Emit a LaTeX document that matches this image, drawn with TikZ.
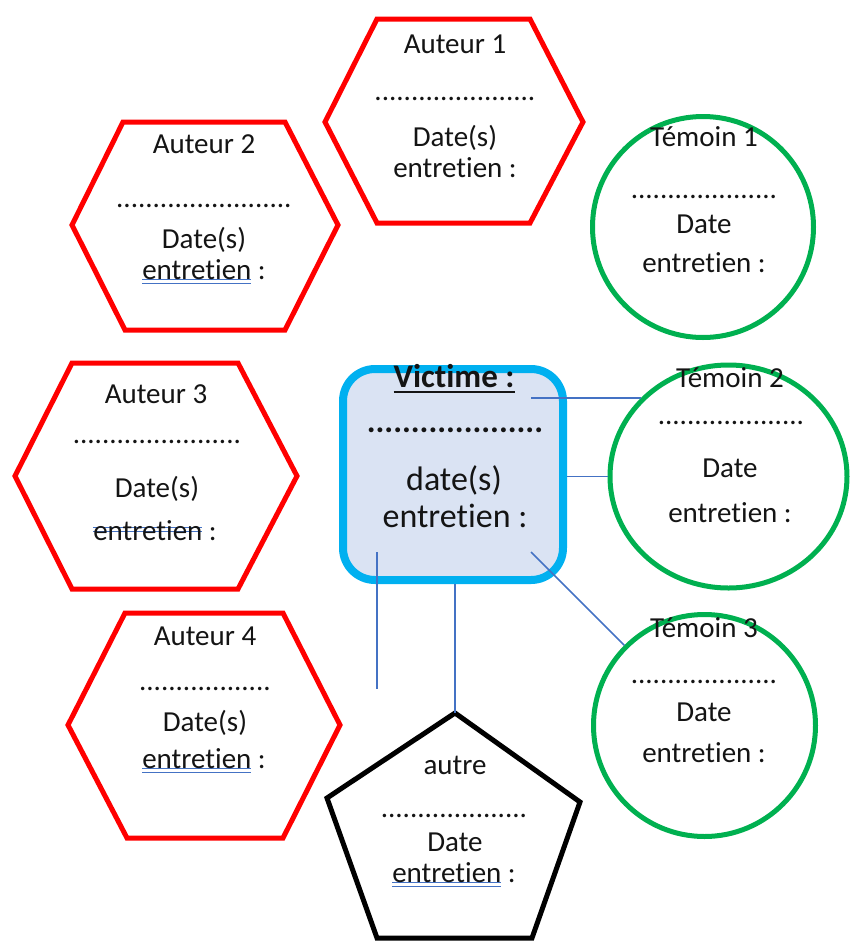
\documentclass[tikz,border=0pt]{standalone}
\usepackage{fontspec}
\setmainfont{Carlito}[Ligatures=NoCommon]
\usepackage{xcolor}
\usepackage{tikz}
\usetikzlibrary{shapes.geometric}
\definecolor{rougeAuteur}{HTML}{FF0000}
\definecolor{vertTemoin}{HTML}{00B050}
\definecolor{cyanVictime}{HTML}{00B0F0}
\definecolor{fondVictime}{HTML}{DAE3F3}
\definecolor{bleuLien}{HTML}{4472C4}
\definecolor{encre}{HTML}{141414}

% double trait bleu sous un mot (correcteur)
\newcommand{\motsouligne}[1]{\setbox0\hbox{#1}%
  \rlap{\textcolor{bleuLien}{\rule[-0.8pt]{\wd0}{1.2pt}}}%
  \rlap{\textcolor{bleuLien}{\rule[-5pt]{\wd0}{1.2pt}}}\box0\relax}
% double trait bleu a travers un mot
\newcommand{\motbarre}[1]{\setbox0\hbox{#1}%
  \rlap{\textcolor{bleuLien}{\rule[12pt]{\wd0}{1.2pt}}}%
  \rlap{\textcolor{bleuLien}{\rule[8pt]{\wd0}{1.2pt}}}\box0\relax}
% trait noir sous le titre
\newcommand{\titresouligne}[1]{\setbox0\hbox{#1}%
  \rlap{\rule[-6pt]{\wd0}{1.8pt}}\box0\relax}

\begin{document}
\begin{tikzpicture}[x=1pt, y=-1pt,
  auteur/.style={draw=rougeAuteur, line width=5pt},
  temoin/.style={draw=vertTemoin, line width=5pt, inner sep=0pt},
  victime/.style={draw=cyanVictime, fill=fondVictime, line width=8pt,
    rounded corners=32pt, inner sep=0pt, minimum width=220pt, minimum height=211pt},
  autre/.style={draw=black, line width=5pt},
  lien/.style={bleuLien, line width=1.5pt},
  txt/.style={anchor=base, inner sep=0pt, text=encre, font=\fontsize{29}{34}\selectfont},
  grand/.style={txt, font=\fontsize{34}{40}\selectfont}]
  \useasboundingbox (0,0) rectangle (850,943);

  % auteurs
  \draw[auteur] (377,19) -- (530,19) -- (583,122) -- (530,223) -- (377,223) -- (325,122) -- cycle;
  \draw[auteur] (123,122) -- (285,122) -- (338,225) -- (285,330) -- (125,330) -- (72,225) -- cycle;
  \draw[auteur] (72,363) -- (238,363) -- (297,476) -- (238,589) -- (72,589) -- (15,476) -- cycle;
  \draw[auteur] (125,613) -- (283,613) -- (340,725) -- (283,838) -- (127,838) -- (68,725) -- cycle;

  % temoins
  \node[temoin, circle, minimum size=221pt] (temoinA) at (703,227) {};
  \node[temoin, ellipse, minimum width=237pt, minimum height=223pt] (temoinB) at (728.5,476.5) {};
  \node[temoin, circle, minimum size=222pt] (temoinC) at (704.5,725.5) {};

  % autre
  \coordinate (autreHaut) at (455,713);
  \draw[autre] (autreHaut) -- (580,802) -- (532,938) -- (377,938) -- (327,798) -- cycle;

  % victime
  \node[victime] (victime) at (453,474.5) {};
  \coordinate (vicHaut) at (531,398);
  \coordinate (vicBas) at (531,552);
  \coordinate (vicGauche) at (377,552);
  \coordinate (finLibre) at (377,689);

  % liens
  \draw[lien] (vicHaut) -- (vicHaut -| temoinB.138.4);
  \draw[lien] (temoinB.west -| victime.east) -- (temoinB.west);
  \draw[lien] (vicBas) -- (temoinC.135);
  \draw[lien] (victime.south -| autreHaut) -- (autreHaut);
  \draw[lien] (vicGauche) -- (finLibre);

  % textes auteurs
  \node[txt] (a1nom) at (455,53) {Auteur 1};
  \node[txt] (a1pts) at (455,100) {......................};
  \node[txt] (a1date) at (455,146) {Date(s)};
  \node[txt] (a1ent) at (455,177) {entretien :};

  \node[txt] (a2nom) at (204,153) {Auteur 2};
  \node[txt] (a2pts) at (204,207) {........................};
  \node[txt] (a2date) at (204,248) {Date(s)};
  \node[txt] (a2ent) at (204,279) {\motsouligne{entretien} :};

  \node[txt] (a3nom) at (156,403) {Auteur 3};
  \node[txt] (a3pts) at (157,443) {.......................};
  \node[txt] (a3date) at (157,497) {Date(s)};
  \node[txt] (a3ent) at (155,540) {\motbarre{entretien} :};

  \node[txt] (a4nom) at (205,645) {Auteur 4};
  \node[txt] (a4pts) at (205,690) {..................};
  \node[txt] (a4date) at (205,731) {Date(s)};
  \node[txt] (a4ent) at (204,768) {\motsouligne{entretien} :};

  % textes temoins
  \node[txt] (t1nom) at (704,146) {Témoin 1};
  \node[txt] (t1pts) at (704,198) {....................};
  \node[txt] (t1date) at (704,233) {Date};
  \node[txt] (t1ent) at (704,272) {entretien :};

  \node[txt] (t2nom) at (730,387) {Témoin 2};
  \node[txt] (t2pts) at (731,424) {....................};
  \node[txt] (t2date) at (730,477) {Date};
  \node[txt] (t2ent) at (730,522) {entretien :};

  \node[txt] (t3nom) at (704,637) {Témoin 3};
  \node[txt] (t3pts) at (704,683) {....................};
  \node[txt] (t3date) at (704,721) {Date};
  \node[txt] (t3ent) at (704,762) {entretien :};

  % texte autre
  \node[txt] (auNom) at (455,774) {autre};
  \node[txt] (auPts) at (454,817) {....................};
  \node[txt] (auDate) at (455,851) {Date};
  \node[txt] (auEnt) at (454,882) {\motsouligne{entretien} :};

  % texte victime
  \node[grand, font=\fontsize{33}{40}\selectfont\bfseries] (vNom) at (454,387) {\titresouligne{Victime :}};
  \node[grand, font=\fontsize{33}{40}\selectfont\bfseries] (vPts) at (455,432) {....................};
  \node[grand] (vDate) at (454,490) {date(s)};
  \node[grand] (vEnt) at (455,527) {entretien :};
\end{tikzpicture}
\end{document}
